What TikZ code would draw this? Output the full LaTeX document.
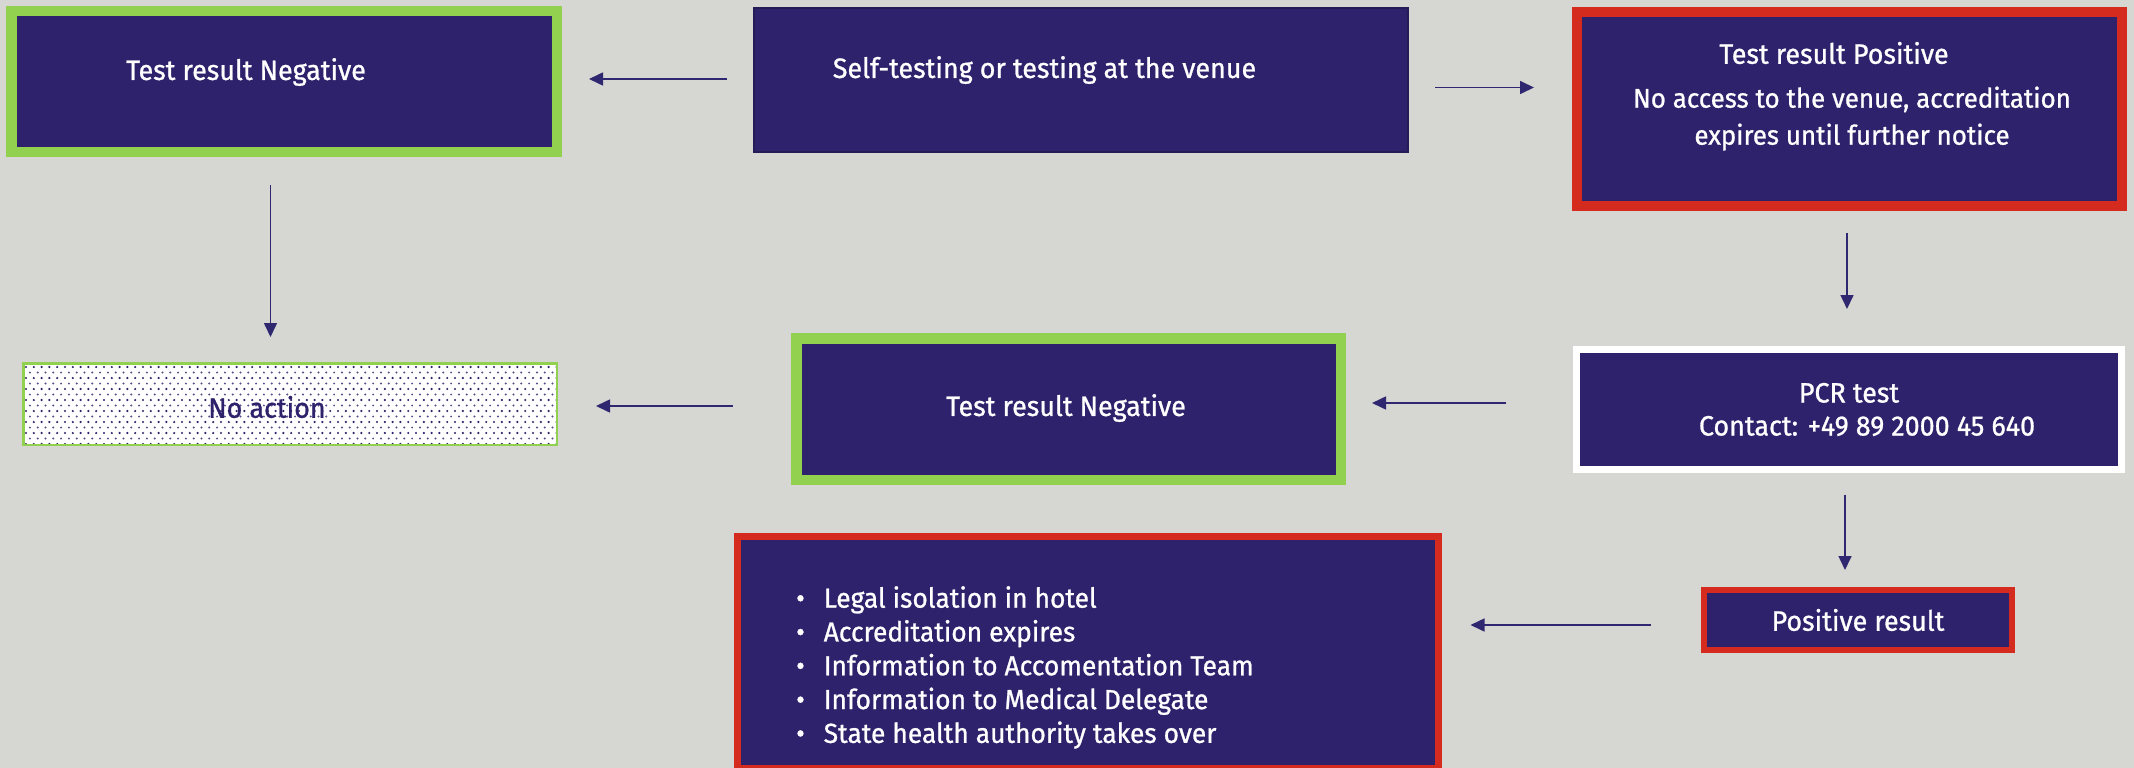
\documentclass[tikz,border=0pt]{standalone}
\usepackage{fontspec}
\setmainfont{Fira Sans}[FakeStretch=0.96, FakeBold=0.9]
\usetikzlibrary{arrows.meta}
\definecolor{bg}{HTML}{D6D7D2}
\definecolor{navy}{HTML}{2D226B}
\definecolor{navyedge}{HTML}{231C57}
\definecolor{arrowc}{HTML}{2F2870}
\definecolor{okgreen}{HTML}{92D050}
\definecolor{alertred}{HTML}{D52B1E}
\tikzset{
  box/.style={rectangle, fill=navy, inner sep=0pt, anchor=center},
  greenbox/.style={box, draw=okgreen, line width=10.5pt},
  redbox/.style={box, draw=alertred, line width=10pt},
  whitebox/.style={box, draw=white, line width=7pt},
  plainbox/.style={box, draw=navyedge, line width=2pt},
  txt/.style={text=white, font=\fontsize{28}{34}\selectfont, inner sep=0pt},
  arr/.style={draw=arrowc, line width=1.6pt, -{Triangle[length=14pt,width=13pt]}},
}
\begin{document}
\begin{tikzpicture}[x=1pt,y=-1pt]
\useasboundingbox (0,0) rectangle (2134,768);
\fill[bg] (0,0) rectangle (2134,768);

% top row
\node[greenbox, minimum width=545.5pt, minimum height=140.5pt,
  label={[txt, xshift=-38pt, yshift=9.5pt]center:Test result Negative}] (A) at (284,81.5) {};
\node[plainbox, minimum width=654pt, minimum height=144pt,
  label={[txt, xshift=-36pt, yshift=10pt]center:Self-testing or testing at the venue}] (B) at (1080.5,80) {};
\node[redbox, minimum width=545pt, minimum height=194pt] (C) at (1849.5,109) {};
\node[txt] (Ct) at ([xshift=-15.5pt,yshift=56pt]C.center) {Test result Positive};
\node[txt, align=center, font=\fontsize{27}{37}\selectfont] (Cb) at ([xshift=2.5pt,yshift=-9.5pt]C.center) {No access to the venue, accreditation\\expires until further notice};

% middle row
\node[draw=okgreen, line width=2.5pt, fill=white, inner sep=0pt,
  minimum width=533.5pt, minimum height=81.5pt] (N) at (290,404) {};
\begin{scope}
  \clip (24.5,364.5) rectangle (555.5,443.5);
  \foreach \r in {0,...,8}{
    \foreach \c in {0,...,69}{
      \fill[navy] ({26+7.8*\c},{367+11*\r}) circle (1.2pt);
      \fill[navy!80] ({29.9+7.8*\c},{372.5+11*\r}) circle (1.1pt);
    }
  }
\end{scope}
\node[text=navy, font=\fontsize{28}{34}\selectfont, inner sep=0pt] (Nt) at ([xshift=-23pt,yshift=-3pt]N.center) {No action};

\node[greenbox, minimum width=544.5pt, minimum height=141.5pt,
  label={[txt, xshift=-2.5pt, yshift=1pt]center:Test result Negative}] (D) at (1068.5,409) {};
\node[whitebox, minimum width=545.5pt, minimum height=120pt, txt, align=center,
  text=white, font=\fontsize{28}{33}\selectfont] (P) at (1849,409.5)
  {PCR test\\\hspace*{36pt}Contact: +49 89 2000 45 640};

% bottom row
\node[redbox, line width=6pt, minimum width=308pt, minimum height=60pt,
  txt] (Q) at (1858,620) {Positive result};
\node[redbox, line width=7pt, minimum width=701pt, minimum height=232pt] (L) at (1088,652.5) {};
\node[txt, anchor=north west, align=left, font=\fontsize{27.5}{33.8}\selectfont] (Lt) at (796,586)
  {•\hspace{19pt}Legal isolation in hotel\\
   •\hspace{19pt}Accreditation expires\\
   •\hspace{19pt}Information to Accomentation Team\\
   •\hspace{19pt}Information to Medical Delegate\\
   •\hspace{19pt}State health authority takes over};

% connectors
\draw[arr, shorten <=25.5pt, shorten >=27pt] ([yshift=1pt]B.west) -- ([yshift=1pt]B.west -| A.east);
\draw[arr, shorten <=26.5pt, shorten >=38pt] ([yshift=-7.5pt]B.east) -- ([yshift=-7.5pt]B.east -| C.west);
\draw[arr, shorten <=28pt, shorten >=25pt] ([xshift=-13.5pt]A.south) -- ([xshift=-13.5pt]A.south |- N.north);
\draw[arr, shorten <=22pt, shorten >=37pt] ([xshift=-2.5pt]C.south) -- ([xshift=-2.5pt]C.south |- P.north);
\draw[arr, shorten <=66.5pt, shorten >=26pt] ([yshift=6.5pt]P.west) -- ([yshift=6.5pt]P.west -| D.east);
\draw[arr, shorten <=58.5pt, shorten >=38pt] ([yshift=3pt]D.west) -- ([yshift=3pt]D.west -| N.east);
\draw[arr, shorten <=21.5pt, shorten >=17pt] ([xshift=-4pt]P.south) -- ([xshift=-4pt]P.south |- Q.north);
\draw[arr, shorten <=50pt, shorten >=28.5pt] ([yshift=-5pt]Q.west) -- ([yshift=-5pt]Q.west -| L.east);
\end{tikzpicture}
\end{document}
